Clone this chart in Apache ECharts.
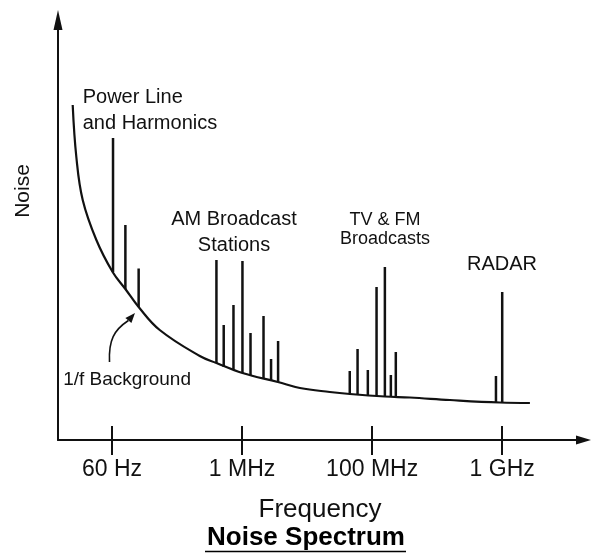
<!DOCTYPE html>
<html>
<head>
<meta charset="utf-8">
<script src="https://cdn.jsdelivr.net/npm/echarts@6/dist/echarts.min.js"></script>
<style>html,body{margin:0;padding:0;background:#fff;}#c{width:592px;height:553px;}</style>
</head>
<body>
<div id="c"></div>
<script>
// Frequency axis positions (decade-like positions: 1 = 60 Hz, 2 = 1 MHz, 3 = 100 MHz, 4 = 1 GHz)
var tickValues = [1, 2, 3, 4];
var tickLabels = ['60 Hz', '1 MHz', '100 MHz', '1 GHz'];

// 1/f background curve (x position, noise level)
var curveX = [0.698, 0.726, 0.775, 0.880, 1.005, 1.103, 1.205, 1.367, 1.675, 1.803, 2.003, 2.275, 2.445, 2.675, 2.829, 3.098, 3.290, 3.598, 3.982, 4.213];
var curveY = [335, 283, 240, 200, 168, 151, 133, 110, 84, 77, 67, 58, 52, 48, 46, 43.5, 42.5, 40, 37.5, 37];

// Interference spikes: position, top level, base level
var spikeX    = [1.008, 1.103, 1.205,  1.803, 1.859, 1.934, 2.003, 2.065, 2.165, 2.223, 2.277,  2.828, 2.888, 2.967, 3.034, 3.098, 3.144, 3.182,  3.952, 4.000];
var spikeTop  = [302, 215, 171.5,      180, 115, 135, 179, 107, 124, 81, 99,                  69, 91, 70, 153, 173, 65, 88,                           64, 148];
var spikeBase = [168, 151, 133,        77, 73, 70, 67, 65, 62, 60, 58,                        46, 45.5, 45, 44, 43.5, 43, 43,                         38, 37.5];

var curveData = curveX.map(function (x, i) { return [x, curveY[i]]; });
var spikeData = spikeX.map(function (x, i) { return [x, spikeBase[i], spikeTop[i]]; });

var ink = '#111';
var chart = echarts.init(document.getElementById('c'));
var xCommon = {
  type: 'value', min: 0.585, max: 4.625, position: 'bottom', offset: 0,
  splitLine: { show: false }
};
chart.setOption({
  animation: false,
  backgroundColor: '#fff',
  grid: { left: 58, right: 8.5, top: 20, bottom: 113 },
  xAxis: [
    Object.assign({}, xCommon, {
      axisLine: { show: true, symbol: ['none', 'triangle'], symbolSize: [9, 15], lineStyle: { color: ink, width: 2 } },
      axisTick: { show: true, customValues: tickValues, length: 15, inside: false, lineStyle: { color: ink, width: 2 } },
      axisLabel: {
        show: true, customValues: tickValues, margin: 18,
        fontFamily: 'Liberation Sans', fontSize: 23, color: ink,
        formatter: function (v) { var i = tickValues.indexOf(v); return i >= 0 ? tickLabels[i] : ''; }
      }
    }),
    Object.assign({}, xCommon, {
      axisLine: { show: false },
      axisTick: { show: true, customValues: tickValues, length: 14, inside: true, lineStyle: { color: ink, width: 2 } },
      axisLabel: { show: false }
    })
  ],
  yAxis: {
    type: 'value', min: 0, max: 420,
    axisLine: { show: true, symbol: ['none', 'triangle'], symbolSize: [9, 20], lineStyle: { color: ink, width: 2 } },
    axisTick: { show: false }, axisLabel: { show: false }, splitLine: { show: false }
  },
  series: [
    {
      type: 'line', data: curveData, smooth: 0.4, showSymbol: false, symbol: 'none',
      lineStyle: { color: ink, width: 2.2 }, z: 3
    },
    {
      type: 'custom', data: spikeData, z: 4,
      renderItem: function (params, api) {
        var p1 = api.coord([api.value(0), api.value(1)]);
        var p2 = api.coord([api.value(0), api.value(2)]);
        return { type: 'line', shape: { x1: p1[0], y1: p1[1], x2: p2[0], y2: p2[1] },
                 style: { stroke: ink, lineWidth: 2.5 } };
      }
    }
  ],
  graphic: [
    { type: 'text', style: { text: 'Power Line', x: 82.7, y: 97, font: '20px "Liberation Sans"', fill: ink, align: 'left', verticalAlign: 'middle' } },
    { type: 'text', style: { text: 'and Harmonics', x: 82.7, y: 123, font: '20px "Liberation Sans"', fill: ink, align: 'left', verticalAlign: 'middle' } },
    { type: 'text', style: { text: 'AM Broadcast', x: 234, y: 219.7, font: '20px "Liberation Sans"', fill: ink, align: 'center', verticalAlign: 'middle' } },
    { type: 'text', style: { text: 'Stations', x: 234, y: 245, font: '20px "Liberation Sans"', fill: ink, align: 'center', verticalAlign: 'middle' } },
    { type: 'text', style: { text: 'TV & FM', x: 385, y: 220.4, font: '18px "Liberation Sans"', fill: ink, align: 'center', verticalAlign: 'middle' } },
    { type: 'text', style: { text: 'Broadcasts', x: 385, y: 238.7, font: '18px "Liberation Sans"', fill: ink, align: 'center', verticalAlign: 'middle' } },
    { type: 'text', style: { text: 'RADAR', x: 502, y: 264.7, font: '20px "Liberation Sans"', fill: ink, align: 'center', verticalAlign: 'middle' } },
    { type: 'text', style: { text: '1/f Background', x: 191, y: 380, font: '19px "Liberation Sans"', fill: ink, align: 'right', verticalAlign: 'middle' } },
    { type: 'text', style: { text: 'Frequency', x: 320, y: 509.6, font: '26px "Liberation Sans"', fill: ink, align: 'center', verticalAlign: 'middle' } },
    { type: 'text', style: { text: 'Noise Spectrum', x: 306, y: 538, font: 'bold 26px "Liberation Sans"', fill: '#000', align: 'center', verticalAlign: 'middle' } },
    { type: 'line', shape: { x1: 205, y1: 551.5, x2: 406, y2: 551.5 }, style: { stroke: '#000', lineWidth: 1.5 } },
    { type: 'text', x: 23, y: 191, rotation: Math.PI / 2, style: { text: 'Noise', x: 0, y: 0, font: '21px "Liberation Sans"', fill: ink, align: 'center', verticalAlign: 'middle' } },
    { type: 'bezierCurve', shape: { x1: 109.5, y1: 362, cpx1: 108.5, cpy1: 340, cpx2: 114, cpy2: 330, x2: 128.4, y2: 320.5 }, style: { stroke: ink, lineWidth: 1.6, fill: null } },
    { type: 'polygon', shape: { points: [[135, 313], [131.4, 323.1], [125.4, 317.9]] }, style: { fill: ink } }
  ]
});
</script>
</body>
</html>
